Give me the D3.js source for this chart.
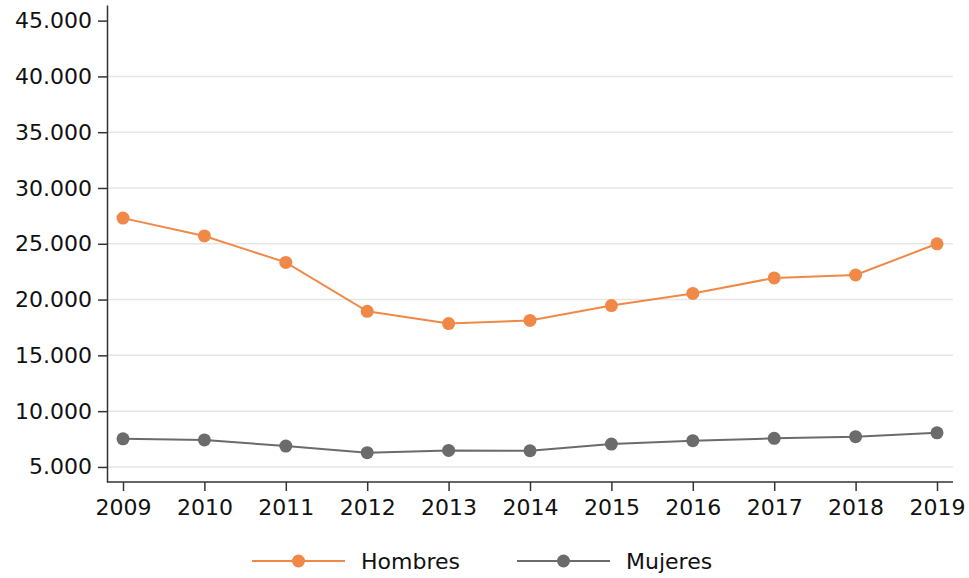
<!DOCTYPE html>
<html>
<head>
<meta charset="utf-8">
<script src="https://cdn.jsdelivr.net/npm/d3@7"></script>
<style>
  body { margin: 0; background: #fff; }
  text { font-family: "DejaVu Sans", sans-serif; }
</style>
</head>
<body>
<div class="chart"></div>
<script>
const years = [2009, 2010, 2011, 2012, 2013, 2014, 2015, 2016, 2017, 2018, 2019];
const hombres = [27300, 25700, 23330, 18950, 17850, 18130, 19460, 20550, 21940, 22200, 25000];
const mujeres = [7520, 7420, 6870, 6280, 6480, 6450, 7050, 7350, 7560, 7710, 8060];
const yTicks = [5000, 10000, 15000, 20000, 25000, 30000, 35000, 40000, 45000];
const seriesNames = ['Hombres', 'Mujeres'];
const seriesColors = ['#f08848', '#6b6b6b'];

const width = 969, height = 578;
const margin = { left: 107, right: 16, top: 5, bottom: 97 };
const fontFamily = '"DejaVu Sans", sans-serif';

const svg = d3.select('div.chart').append('svg')
  .attr('width', width)
  .attr('height', height);

const x = d3.scalePoint()
  .domain(years)
  .range([123, 937]);

const y = d3.scaleLinear()
  .domain([3650, 46400])
  .range([height - margin.bottom + 1, margin.top]);

const fmt = d => d3.format(',')(d).replace(/,/g, '.');

// gridlines (none on the top tick)
svg.append('g')
  .selectAll('line')
  .data(yTicks.filter(t => t < 45000))
  .enter().append('line')
    .attr('x1', margin.left)
    .attr('x2', 953)
    .attr('y1', d => y(d))
    .attr('y2', d => y(d))
    .attr('stroke', '#e6e6e6')
    .attr('stroke-width', 1.5);

const yAxis = svg.append('g')
  .attr('transform', 'translate(' + margin.left + ',0)')
  .call(d3.axisLeft(y).tickValues(yTicks).tickFormat(fmt).tickSize(9).tickPadding(6).tickSizeOuter(0));

const xAxis = svg.append('g')
  .attr('transform', 'translate(0,' + y.range()[0] + ')')
  .call(d3.axisBottom(x).tickSize(9).tickPadding(6).tickSizeOuter(0));

// extend x axis line to the full plot width
xAxis.select('.domain').attr('d', 'M' + margin.left + ',0H953');

[yAxis, xAxis].forEach(a => {
  a.select('.domain').attr('stroke', '#333').attr('stroke-width', 1.5);
  a.selectAll('.tick line').attr('stroke', '#333').attr('stroke-width', 1.5);
  a.selectAll('.tick text')
    .attr('font-size', 22)
    .attr('fill', '#111')
    .style('font-family', fontFamily);
});
xAxis.selectAll('.tick text').attr('dy', '0.8em');

const line = d3.line()
  .x((d, i) => x(years[i]))
  .y(d => y(d));

[hombres, mujeres].forEach((vals, si) => {
  svg.append('path')
    .datum(vals)
    .attr('d', line)
    .attr('fill', 'none')
    .attr('stroke', seriesColors[si])
    .attr('stroke-width', 2);

  svg.append('g')
    .selectAll('circle')
    .data(vals)
    .enter().append('circle')
      .attr('cx', (d, i) => x(years[i]))
      .attr('cy', d => y(d))
      .attr('r', 6.5)
      .attr('fill', seriesColors[si]);
});

// legend
const legend = svg.append('g').attr('transform', 'translate(252,561)');
seriesNames.forEach((name, i) => {
  const g = legend.append('g').attr('transform', 'translate(' + (i * 265) + ',0)');
  g.append('line')
    .attr('x1', 0).attr('x2', 93)
    .attr('stroke', seriesColors[i])
    .attr('stroke-width', 2);
  g.append('circle')
    .attr('cx', 46.5).attr('r', 6.5)
    .attr('fill', seriesColors[i]);
  g.append('text')
    .attr('x', 109)
    .attr('dy', '0.35em')
    .attr('font-size', 22)
    .attr('fill', '#111')
    .text(name);
});
</script>
</body>
</html>
